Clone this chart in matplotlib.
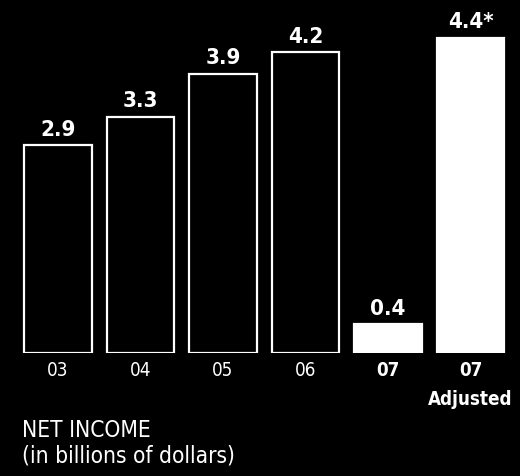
import matplotlib.pyplot as plt

# Net income by year (billions of dollars)
years = ['03', '04', '05', '06', '07', '07\nAdjusted']
values = [2.9, 3.3, 3.9, 4.2, 0.4, 4.4]
value_labels = ['2.9', '3.3', '3.9', '4.2', '0.4', '4.4*']
filled = [False, False, False, False, True, True]

plt.rcParams['font.family'] = 'DejaVu Sans'
plt.rcParams['font.stretch'] = 'condensed'

fig = plt.figure(figsize=(5.2, 4.76), dpi=100, facecolor='black')
ax = fig.add_axes([0, 123 / 476, 1, 353 / 476])
ax.set_facecolor('black')

x = list(range(len(years)))
for i, v in enumerate(values):
    ax.bar(i, v, width=0.82,
           color='white' if filled[i] else 'black',
           edgecolor='white', linewidth=1.6)
    ax.annotate(value_labels[i], (i, v), xytext=(0, 4), textcoords='offset points',
                ha='center', va='bottom', color='white', fontsize=16,
                fontweight='bold')

ax.set_xlim(-0.703, 5.6)
ax.set_ylim(0, 4.93)
ax.set_yticks([])
ax.set_xticks(x)
ax.set_xticklabels(years, color='white', fontsize=13.5, linespacing=1.65)
for i, lbl in enumerate(ax.get_xticklabels()):
    if filled[i]:
        lbl.set_fontweight('bold')
ax.tick_params(axis='x', length=0, pad=6)
for s in ax.spines.values():
    s.set_visible(False)

fig.text(0.042, 0.082, 'NET INCOME', color='white', fontsize=16.3)
fig.text(0.042, 0.029, '(in billions of dollars)', color='white', fontsize=16.3)

fig.savefig('out.png', dpi=100, facecolor='black')
